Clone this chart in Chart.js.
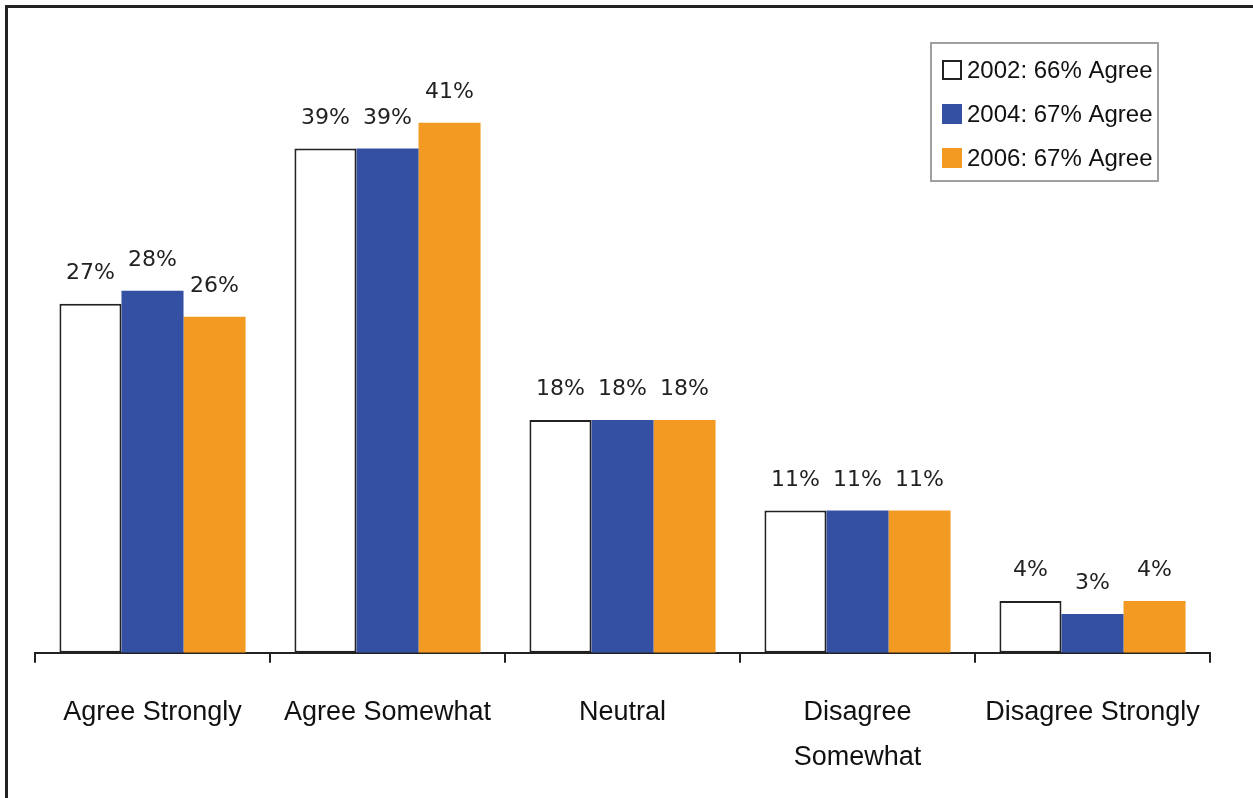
<!DOCTYPE html>
<html>
<head>
<meta charset="utf-8">
<script src="https://cdn.jsdelivr.net/npm/chart.js@4/dist/chart.umd.min.js"></script>
<style>
  html, body { margin: 0; padding: 0; background: #fff; overflow: hidden; }
  #wrap { position: relative; width: 1253px; height: 798px; overflow: hidden; }
  #frame { position: absolute; left: 5px; top: 5px; width: 2000px; height: 2000px;
           border-top: 3px solid #222; border-left: 3px solid #222; }
  #chart { position: absolute; left: 0; top: 0; }
</style>
</head>
<body>
<div id="wrap">
  <div id="frame"></div>
  <canvas id="chart" width="1253" height="820"></canvas>
</div>
<script>
'use strict';
// values, percent
const categories = ['Agree Strongly', 'Agree Somewhat', 'Neutral', ['Disagree', 'Somewhat'], 'Disagree Strongly'];
const seriesNames = ['2002: 66% Agree', '2004: 67% Agree', '2006: 67% Agree'];
const values2002 = [27, 39, 18, 11, 4];
const values2004 = [28, 39, 18, 11, 3];
const values2006 = [26, 41, 18, 11, 4];
const fills = ['#ffffff', '#3450a3', '#f39a22'];

const labelFont = '"Liberation Sans", Arial, sans-serif';

// percent labels above each bar
const barLabels = {
    id: 'barLabels',
    afterDatasetsDraw(chart) {
        const ctx = chart.ctx;
        ctx.save();
        ctx.font = '22px "DejaVu Sans", sans-serif';
        ctx.fillStyle = '#222';
        ctx.textAlign = 'center';
        ctx.textBaseline = 'alphabetic';
        chart.data.datasets.forEach(function(ds, i) {
            chart.getDatasetMeta(i).data.forEach(function(bar, j) {
                ctx.fillText(ds.data[j] + '%', bar.x, bar.y - 25);
            });
        });
        ctx.restore();
    }
};

// boxed legend in the top right corner
const boxLegend = {
    id: 'boxLegend',
    afterDraw(chart) {
        const ctx = chart.ctx;
        const bx = 931, by = 43, bw = 227, bh = 138;
        ctx.save();
        ctx.strokeStyle = '#a0a0a0';
        ctx.lineWidth = 2;
        ctx.strokeRect(bx, by, bw, bh);
        ctx.font = '24px ' + labelFont;
        ctx.textBaseline = 'middle';
        ctx.textAlign = 'left';
        chart.data.datasets.forEach(function(ds, i) {
            const cy = by + 27 + i * 44;
            ctx.fillStyle = ds.backgroundColor;
            ctx.fillRect(942, cy - 10, 20, 20);
            if (ds.borderWidth) {
                ctx.strokeStyle = '#222';
                ctx.lineWidth = 2;
                ctx.strokeRect(943, cy - 9, 18, 18);
            }
            ctx.fillStyle = '#111';
            ctx.fillText(ds.label, 967, cy + 1);
        });
        ctx.restore();
    }
};

new Chart(document.getElementById('chart'), {
    type: 'bar',
    data: {
        labels: categories,
        datasets: [
            { label: seriesNames[0], data: values2002, backgroundColor: fills[0], borderColor: '#222', borderWidth: 2, borderSkipped: false },
            { label: seriesNames[1], data: values2004, backgroundColor: fills[1], borderWidth: 0 },
            { label: seriesNames[2], data: values2006, backgroundColor: fills[2], borderWidth: 0 }
        ]
    },
    options: {
        responsive: false,
        animation: false,
        devicePixelRatio: 1,
        layout: { padding: { left: 35, right: 43, top: 71, bottom: 13 } },
        datasets: { bar: { categoryPercentage: 0.792, barPercentage: 1 } },
        plugins: { legend: { display: false }, tooltip: { enabled: false } },
        scales: {
            y: { display: false, min: 0, max: 45 },
            x: {
                grid: { display: true, drawOnChartArea: false, drawTicks: true, tickLength: 10, color: '#222', lineWidth: 2, offset: true },
                border: { display: true, color: '#222', width: 2 },
                ticks: { color: '#111', padding: 27, maxRotation: 0, autoSkip: false,
                         font: { family: labelFont, size: 27, lineHeight: 1.67 } }
            }
        }
    },
    plugins: [barLabels, boxLegend]
});
</script>
</body>
</html>
